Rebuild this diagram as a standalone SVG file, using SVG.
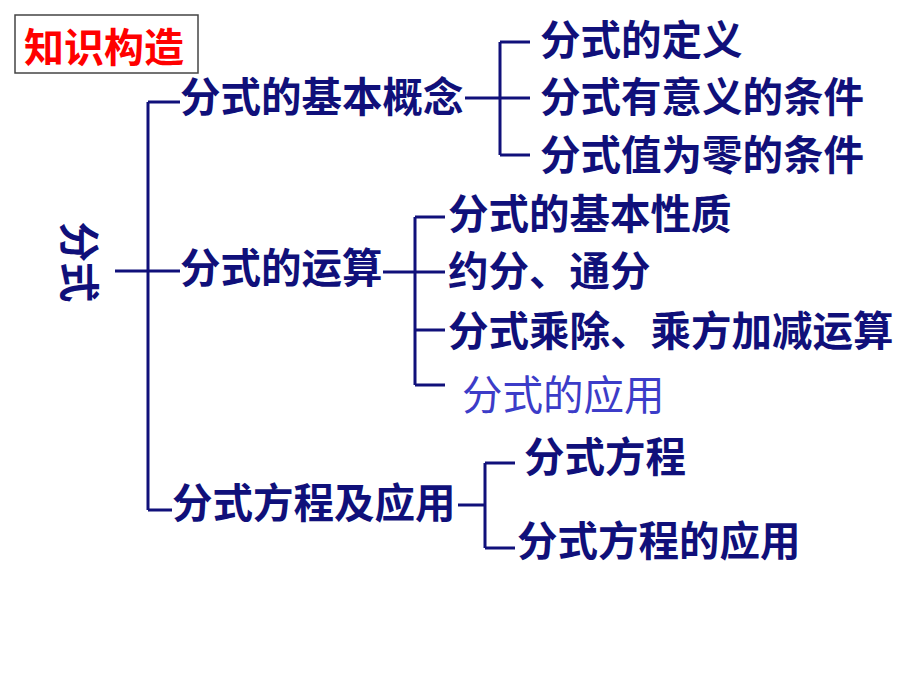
<svg xmlns="http://www.w3.org/2000/svg" width="920" height="690" viewBox="0 0 920 690">
<style>
.t{font-family:"Liberation Sans","Noto Sans CJK SC",sans-serif;font-size:40.5px;font-weight:bold;fill:#10107a}
.l{stroke:#10107a;stroke-width:3;fill:none}
</style>
<rect width="920" height="690" fill="#fff"/>
<g id="title"><rect x="15" y="15" width="183" height="58" fill="#fff" stroke="#444" stroke-width="1.5"/>
<text x="24" y="62" class="t" style="fill:#ff0000;font-size:40px">知识构造</text></g>
<g id="connectors">
<path class="l" d="M115 271H148M148 102V510M148 102H180M148 271H180M148 510H172"/>
<path class="l" d="M465 98H500M500 42V155M500 42H530M500 98H530M500 155H530"/>
<path class="l" d="M383 272H415M415 217V385M415 217H445M415 272H445M415 330H445M415 385H445"/>
<path class="l" d="M458 505H485M485 463V548M485 463H515M485 548H515"/>
</g>
<g id="root"><text class="t" transform="translate(64 262) rotate(90)" text-anchor="middle">分式</text></g>
<g id="n1"><text x="180" y="112" class="t">分式的基本概念</text></g>
<g id="n11"><text x="540" y="55" class="t">分式的定义</text></g>
<g id="n12"><text x="540" y="112" class="t">分式有意义的条件</text></g>
<g id="n13"><text x="540" y="170" class="t">分式值为零的条件</text></g>
<g id="n2"><text x="180" y="283" class="t">分式的运算</text></g>
<g id="n21"><text x="448" y="229" class="t">分式的基本性质</text></g>
<g id="n22"><text x="448" y="286" class="t">约分、通分</text></g>
<g id="n23"><text x="448" y="346" class="t">分式乘除、乘方加减运算</text></g>
<g id="n24"><text x="462" y="410" class="t" style="font-weight:normal;fill:#3c3cc8">分式的应用</text></g>
<g id="n3"><text x="172" y="518" class="t">分式方程及应用</text></g>
<g id="n31"><text x="524" y="472" class="t">分式方程</text></g>
<g id="n32"><text x="517" y="556" class="t">分式方程的应用</text></g>
</svg>
